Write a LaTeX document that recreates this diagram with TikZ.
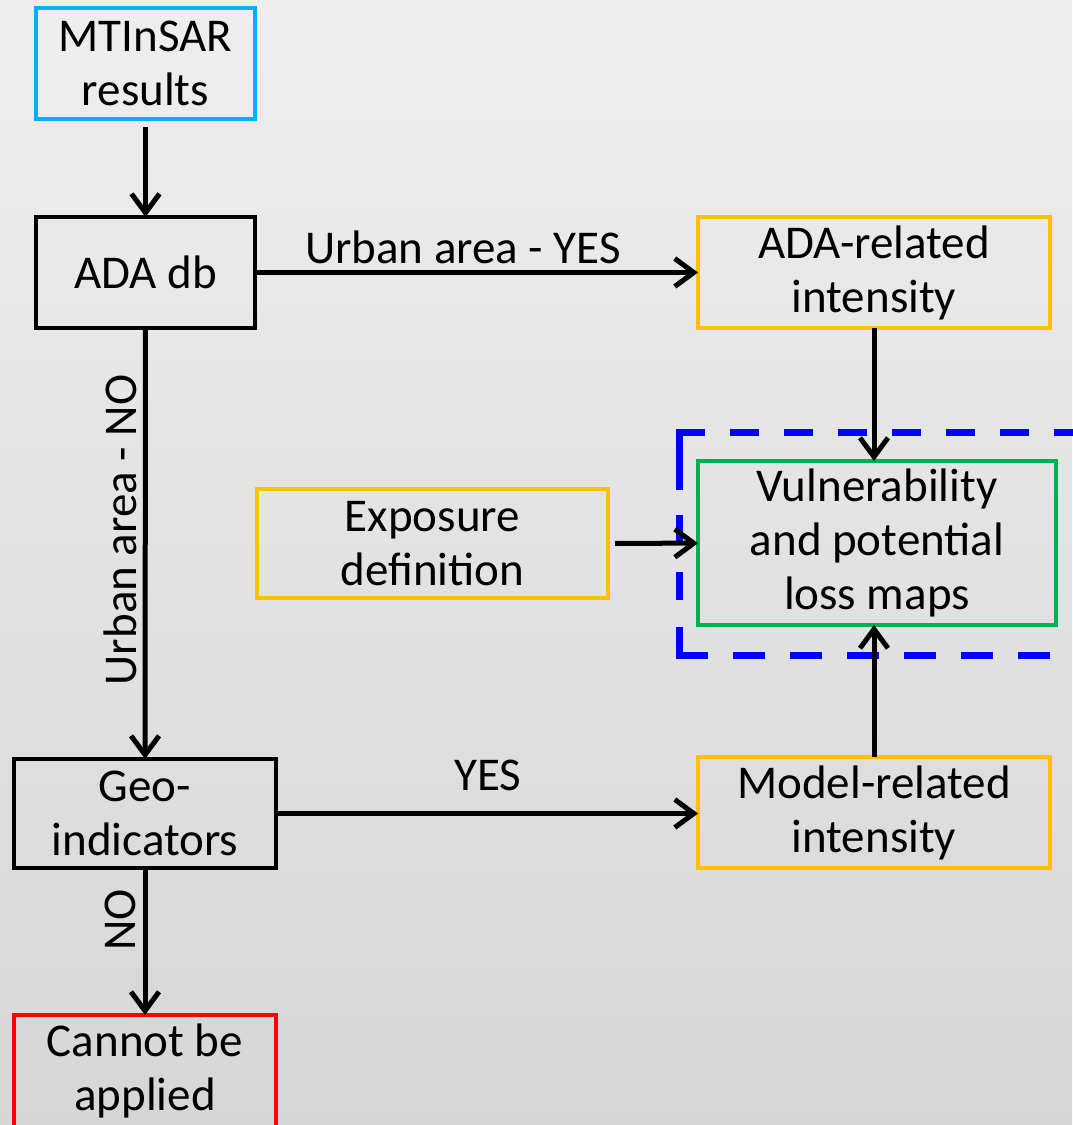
\documentclass[tikz,border=0pt]{standalone}
\usepackage{fontspec}
\setmainfont{Carlito}
\usetikzlibrary{arrows.meta}
\definecolor{cyanline}{RGB}{0,176,240}
\definecolor{amber}{RGB}{255,192,0}
\definecolor{leafgreen}{RGB}{0,176,80}
\definecolor{pureblue}{RGB}{0,0,255}
\definecolor{alarmred}{RGB}{255,0,0}
\pgfdeclareverticalshading{backdrop}{100bp}{color(0bp)=(black!13); color(25bp)=(black!16); color(100bp)=(black!2)}

\begin{document}
\begin{tikzpicture}[x=1pt,y=-1pt,
  box/.style={draw, line width=3.5pt, rectangle, inner sep=0pt, outer sep=0pt,
              align=center, font=\fontsize{47}{54}\selectfont},
  arr/.style={line width=5pt, -{Straight Barb[length=19pt,width=28pt]}},
  lbl/.style={font=\fontsize{47}{54}\selectfont, inner sep=0pt},
  zone/.style={draw=pureblue, line width=7pt, line cap=butt}]

% page and background
\useasboundingbox (0,0) rectangle (1072,1125);
\shade[shading=backdrop] (0,0) rectangle (1072,1125);

% process boxes
\node[box, draw=cyanline, minimum width=219pt, minimum height=111pt] (mt) at (145.5,63.5) {MTInSAR\\results};
\node[box, draw=black, minimum width=219pt, minimum height=111pt] (ada) at (145.5,272.5) {ADA db};
\node[box, draw=amber, minimum width=352pt, minimum height=111pt] (adai) at (874,272.5) {ADA-related\\intensity};
\node[box, draw=amber, minimum width=351pt, minimum height=109pt] (expo) at (432.5,543.5) {Exposure\\definition};
\node[box, draw=leafgreen, minimum width=358pt, minimum height=164pt] (vuln) at (877,543) {Vulnerability\\and potential\\loss maps};
\node[box, draw=black, minimum width=262pt, minimum height=109pt] (geo) at (145,813.5) {Geo-\\indicators};
\node[box, draw=amber, minimum width=352pt, minimum height=111pt] (model) at (874,812.5) {Model-related\\intensity};
\node[box, draw=alarmred, minimum width=262pt, minimum height=112pt] (cannot) at (145,1071) {Cannot be\\applied};

% dashed frame around the output box (open to the right)
\draw[zone, dash pattern=on 29pt off 25pt] (676,432.5) -- (1090,432.5);
\draw[zone, dash pattern=on 61pt off 25pt on 30pt off 27pt on 28pt off 27pt on 40pt off 100pt] (679.5,429) -- (679.5,659);
\draw[zone, dash pattern=on 32pt off 25pt] (676,655.5) -- (1090,655.5);

% connectors
\draw[arr, shorten <=8pt] (mt) -- (ada);
\draw[arr] (ada) -- (adai);
\draw[arr] (ada) -- (geo);
\draw[arr] (adai) -- (adai |- vuln.north);
\draw[arr, shorten <=7pt] (expo) -- (vuln);
\draw[arr] (model) -- (model |- vuln.south);
\draw[arr] (geo) -- (geo -| model.west);
\draw[arr] (geo) -- (cannot);

% connector labels
\node[lbl, anchor=base] (lyes) at (463,263) {Urban area - YES};
\node[lbl, anchor=base] (lyes2) at (488,790) {YES};
\node[lbl, rotate=90, anchor=base] (lno) at (136,530) {Urban area - NO};
\node[lbl, rotate=90, anchor=base] (lno2) at (135,920) {NO};
\end{tikzpicture}
\end{document}
